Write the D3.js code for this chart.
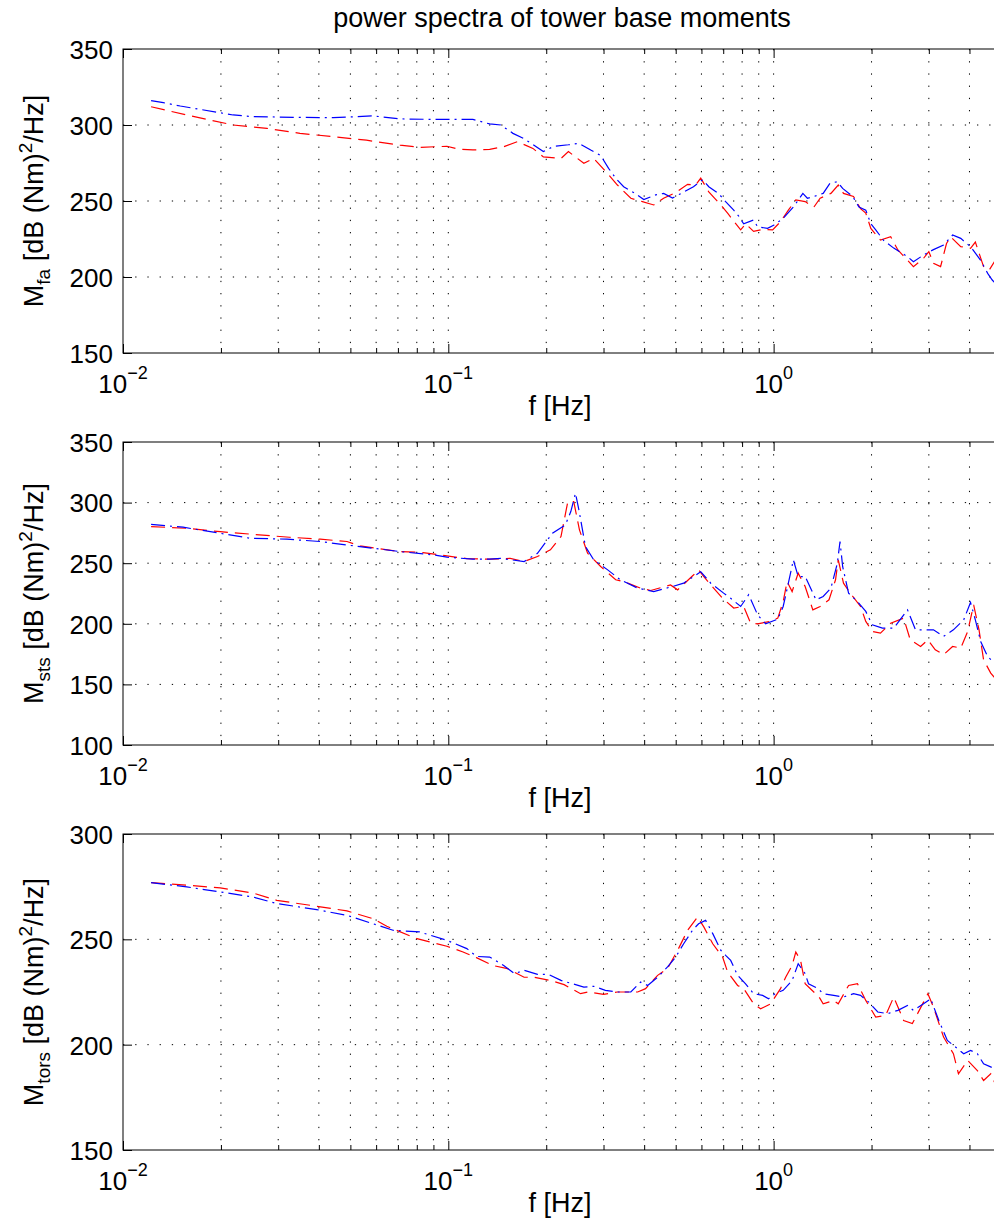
<!DOCTYPE html>
<html>
<head>
<meta charset="utf-8">
<script src="https://cdn.jsdelivr.net/npm/d3@7"></script>
<style>
  body { margin: 0; background: #fff; }
  svg { display: block; font-family: "Liberation Sans", Arial, Helvetica, sans-serif; }
</style>
</head>
<body>
<div id="chart"></div>
<script>
// [frequency in Hz, PSD in dB]
const faRed = [[0.0122,312],[0.0157,306.6],[0.0218,300],[0.0277,297.8],[0.035,294.5],[0.0443,292.3],[0.056,290],[0.071,286.8],[0.0817,285.3],[0.099,286],[0.108,284],[0.119,283.6],[0.134,284],[0.148,285.7],[0.163,289],[0.182,284.6],[0.196,279],[0.222,278],[0.234,282.5],[0.261,274.8],[0.28,278],[0.309,268],[0.331,260.5],[0.364,251.8],[0.395,249.6],[0.428,247.4],[0.459,251.8],[0.5,255.5],[0.544,261],[0.576,260.5],[0.597,265],[0.632,256],[0.697,246],[0.722,242],[0.792,231],[0.82,235],[0.868,230],[0.932,231.4],[0.993,231],[1.05,236.4],[1.11,244],[1.17,250.7],[1.25,249.6],[1.33,246],[1.39,251.8],[1.5,255],[1.58,260.5],[1.64,255],[1.76,253],[1.85,245],[1.92,242],[1.99,232],[2.13,224.3],[2.29,226.5],[2.41,217.8],[2.58,211],[2.69,206.8],[2.89,212.3],[3.0,216.7],[3.1,209],[3.26,206.8],[3.4,222],[3.5,226.5],[3.76,220],[4.03,218.9],[4.17,223],[4.42,206.8],[4.6,204.6],[4.8,211]];
const faBlue = [[0.0122,316],[0.0133,314.7],[0.015,312.5],[0.0218,306.6],[0.0251,305.5],[0.035,305],[0.0443,304.8],[0.0587,306],[0.071,304],[0.0897,303.7],[0.101,303.7],[0.119,303.7],[0.134,300.7],[0.145,300],[0.158,294.5],[0.171,291],[0.196,282.5],[0.211,286],[0.234,287],[0.252,288],[0.274,283.5],[0.294,280],[0.311,271.5],[0.327,265],[0.346,259.4],[0.372,255.5],[0.399,251],[0.434,254],[0.459,255],[0.489,252],[0.525,255.5],[0.567,259.4],[0.605,264],[0.632,259.4],[0.677,255],[0.712,249.6],[0.754,244],[0.781,240],[0.809,235],[0.868,237.5],[0.893,233],[0.958,232],[1.0,234],[1.07,238.6],[1.15,246],[1.23,255],[1.27,251.8],[1.33,253],[1.42,255],[1.49,261.6],[1.57,262.7],[1.63,258.3],[1.75,253],[1.83,246],[1.92,244],[1.99,235],[2.06,231],[2.18,224],[2.34,219],[2.58,213.4],[2.69,210],[2.89,214.5],[3.1,218],[3.33,221],[3.55,227.6],[3.76,225.4],[4.03,220],[4.33,211],[4.55,202.4],[4.7,198],[4.8,196]];

const stsRed = [[0.0122,280.2],[0.0157,278.8],[0.0199,276],[0.0246,274],[0.0325,271.4],[0.0404,269.8],[0.0488,267.9],[0.0535,264.3],[0.071,259.6],[0.0836,258.8],[0.099,256],[0.114,253.8],[0.134,253.3],[0.155,254],[0.171,251.4],[0.188,255.5],[0.206,261],[0.222,272],[0.233,300.8],[0.243,300.8],[0.253,277.5],[0.268,258.2],[0.294,247.3],[0.327,236.3],[0.346,234.9],[0.39,229.4],[0.419,227.5],[0.482,232],[0.507,228],[0.567,240.3],[0.588,244.5],[0.61,239],[0.654,229.4],[0.697,221],[0.754,213],[0.809,214.3],[0.85,200.5],[0.893,200],[0.979,202],[1.03,204.7],[1.07,218.4],[1.1,234.9],[1.14,226.6],[1.19,241.8],[1.25,230.8],[1.32,211.5],[1.39,214.3],[1.48,219.8],[1.55,236.3],[1.58,252.7],[1.64,233.5],[1.72,225.3],[1.85,214.3],[1.92,202],[2.01,193.7],[2.13,192.3],[2.29,200.5],[2.51,204.7],[2.63,186.8],[2.83,181.3],[2.98,186.8],[3.14,178.6],[3.33,174.5],[3.55,181.3],[3.76,180],[3.95,193.7],[4.12,215.7],[4.28,195],[4.42,170.3],[4.65,159.3],[4.8,155]];
const stsBlue = [[0.0122,282],[0.0153,279.7],[0.0199,274.7],[0.0246,270.6],[0.0319,269.8],[0.0404,267.9],[0.0488,265],[0.0535,263.7],[0.071,259.6],[0.0897,256.9],[0.099,255],[0.119,253.3],[0.134,253.3],[0.145,254],[0.171,251.4],[0.188,258.2],[0.209,274.7],[0.229,281.6],[0.238,292.6],[0.246,307.7],[0.252,294],[0.264,263.7],[0.28,252.7],[0.309,244.5],[0.338,236.3],[0.382,229.4],[0.428,226.6],[0.489,230.8],[0.529,233.5],[0.597,243],[0.641,233.5],[0.702,225.3],[0.738,221],[0.792,214.3],[0.838,224],[0.893,207.4],[0.945,200],[1.03,203.8],[1.07,214.3],[1.11,233.5],[1.15,252.7],[1.19,239],[1.25,239],[1.35,219.8],[1.42,222.5],[1.5,229.4],[1.57,250],[1.6,267.9],[1.63,247.3],[1.7,225.3],[1.81,218.4],[1.92,210.2],[2.01,199.2],[2.16,196.4],[2.34,196.4],[2.58,211.5],[2.73,195],[2.89,195],[3.1,195],[3.33,189.6],[3.57,195],[3.84,203.3],[4.03,217.6],[4.17,203.3],[4.33,185.4],[4.55,173],[4.8,167]];

const torsRed = [[0.0122,276.9],[0.0157,275.7],[0.0199,274.4],[0.0251,272],[0.0297,268.5],[0.0394,265.7],[0.0488,263.5],[0.0587,259.8],[0.0647,256.2],[0.0801,250.3],[0.099,246.7],[0.111,244],[0.122,241.3],[0.137,237.6],[0.152,236.1],[0.171,232],[0.183,232],[0.206,230.5],[0.227,228.5],[0.255,224.2],[0.268,225],[0.3,223.9],[0.331,225],[0.382,225],[0.404,226.6],[0.44,232.9],[0.472,236.1],[0.51,245.6],[0.544,254.3],[0.584,260.6],[0.61,255.9],[0.65,247.9],[0.697,241.6],[0.722,234.5],[0.775,228.1],[0.809,226.6],[0.868,219.4],[0.912,217],[0.979,219.4],[1.05,226.6],[1.09,232.1],[1.14,237.6],[1.17,244],[1.21,240],[1.25,228.9],[1.38,222.6],[1.42,219.4],[1.53,221],[1.58,219.4],[1.7,228.1],[1.81,228.9],[1.92,221],[2.06,213.1],[2.21,213.9],[2.34,222.6],[2.51,211.5],[2.67,210],[2.89,220.2],[2.98,224.2],[3.1,217.8],[3.33,203.6],[3.57,195.7],[3.7,186.2],[3.95,192.5],[4.23,187.7],[4.42,183],[4.65,186.2],[4.8,181.4]];
const torsBlue = [[0.0122,276.9],[0.0157,274.9],[0.0199,272.5],[0.0251,270.1],[0.0297,267],[0.0394,264.1],[0.0488,261.4],[0.0587,257.4],[0.0676,254.3],[0.0817,253.5],[0.099,249.5],[0.114,245.6],[0.122,241.9],[0.134,241.6],[0.148,237.6],[0.16,233.7],[0.171,235.3],[0.188,233.4],[0.203,233.4],[0.222,230.5],[0.241,228.9],[0.261,227.3],[0.28,227.7],[0.304,225.8],[0.331,225],[0.364,225],[0.39,229.7],[0.41,228.1],[0.44,232],[0.472,236.9],[0.5,241.6],[0.529,247.9],[0.563,254.3],[0.588,257.4],[0.618,259],[0.65,252.7],[0.688,244.8],[0.712,242.4],[0.738,240],[0.775,232.9],[0.82,228.9],[0.868,224.2],[0.925,223.4],[0.965,221.8],[1.01,224.2],[1.07,225.8],[1.14,230.5],[1.19,238.4],[1.25,233.7],[1.28,228.9],[1.37,226.6],[1.42,224.2],[1.53,223.4],[1.64,222.6],[1.76,224.2],[1.85,223.4],[1.96,220.2],[2.09,215.5],[2.24,214.7],[2.41,216.3],[2.58,218.6],[2.69,216.3],[2.89,219.4],[3.04,221.8],[3.22,211.5],[3.42,202],[3.63,198.8],[3.84,195.7],[4.03,197.3],[4.23,195.7],[4.42,190.9],[4.8,188.5]];

const faTicks = [150, 200, 250, 300, 350];
const stsTicks = [100, 150, 200, 250, 300, 350];
const torsTicks = [150, 200, 250, 300];
const xMajor = [0.01, 0.1, 1];
const xExponents = ['\u22122', '\u22121', '0'];
const titleText = 'power spectra of tower base moments';

const width = 994, height = 1220;
const svg = d3.select('#chart').append('svg')
  .attr('width', width)
  .attr('height', height);
svg.append('rect').attr('width', width).attr('height', height).attr('fill', '#fff');

// plot frame runs a little past the right edge of the picture
const left = 123, right = 1001;
const x = d3.scaleLog().domain([0.01, 5]).range([left, right]);

const xMinor = [];
xMajor.forEach((d) => {
  for (let k = 2; k <= 9; k++) {
    const v = +(d * k).toPrecision(3);
    if (v <= 5) xMinor.push(v);
  }
});

const panels = [
  { top: 49, bottom: 353, ticks: faTicks, red: faRed, blue: faBlue, sub: 'fa' },
  { top: 442, bottom: 745, ticks: stsTicks, red: stsRed, blue: stsBlue, sub: 'sts' },
  { top: 834, bottom: 1150, ticks: torsTicks, red: torsRed, blue: torsBlue, sub: 'tors' }
];

const gridDash = '1.3 10.9';

panels.forEach((p, i) => {
  const y = d3.scaleLinear()
    .domain(d3.extent(p.ticks))
    .range([p.bottom, p.top]);

  const g = svg.append('g');

  // dotted grid
  g.selectAll('.vgrid')
    .data(xMajor.slice(1).concat(xMinor))
    .enter()
    .append('line')
    .attr('x1', (d) => x(d)).attr('x2', (d) => x(d))
    .attr('y1', p.top).attr('y2', p.bottom)
    .attr('stroke', '#000')
    .attr('stroke-width', 1)
    .attr('stroke-dasharray', gridDash);

  g.selectAll('.hgrid')
    .data(p.ticks.slice(1, -1))
    .enter()
    .append('line')
    .attr('x1', left).attr('x2', right)
    .attr('y1', (d) => y(d)).attr('y2', (d) => y(d))
    .attr('stroke', '#000')
    .attr('stroke-width', 1)
    .attr('stroke-dasharray', gridDash);

  // clip for the spectra
  const clipId = `clip${i}`;
  svg.append('clipPath').attr('id', clipId)
    .append('rect')
    .attr('x', left).attr('y', p.top)
    .attr('width', right - left).attr('height', p.bottom - p.top);

  const line = d3.line()
    .x((d) => x(d[0]))
    .y((d) => y(d[1]));

  const lines = g.append('g').attr('clip-path', `url(#${clipId})`);
  lines.append('path')
    .datum(p.red)
    .attr('fill', 'none')
    .attr('stroke', '#ff0000')
    .attr('stroke-width', 1.2)
    .attr('stroke-dasharray', '14 7')
    .attr('d', line);
  lines.append('path')
    .datum(p.blue)
    .attr('fill', 'none')
    .attr('stroke', '#0000ff')
    .attr('stroke-width', 1.2)
    .attr('stroke-dasharray', '14 5 2 5')
    .attr('d', line);

  // ticks (inward), labels added by hand below
  const tickStyle = (sel) => {
    sel.select('.domain').remove();
    sel.selectAll('line').attr('stroke', '#000').attr('stroke-width', 1);
    sel.selectAll('text').remove();
  };
  g.append('g').attr('transform', `translate(0,${p.bottom})`)
    .call(d3.axisBottom(x).tickValues(xMajor).tickSizeInner(-9).tickSizeOuter(0))
    .call(tickStyle);
  g.append('g').attr('transform', `translate(0,${p.bottom})`)
    .call(d3.axisBottom(x).tickValues(xMinor).tickSizeInner(-5).tickSizeOuter(0))
    .call(tickStyle);
  g.append('g').attr('transform', `translate(0,${p.top})`)
    .call(d3.axisTop(x).tickValues(xMajor).tickSizeInner(-9).tickSizeOuter(0))
    .call(tickStyle);
  g.append('g').attr('transform', `translate(0,${p.top})`)
    .call(d3.axisTop(x).tickValues(xMinor).tickSizeInner(-5).tickSizeOuter(0))
    .call(tickStyle);

  const yAxis = g.append('g').attr('transform', `translate(${left},0)`)
    .call(d3.axisLeft(y).tickValues(p.ticks).tickSizeInner(-9).tickSizeOuter(0).tickPadding(10));
  yAxis.select('.domain').remove();
  yAxis.selectAll('line').attr('stroke', '#000');
  yAxis.selectAll('text')
    .attr('fill', '#000')
    .attr('dy', '0.36em')
    .style('font-size', '26px')
    .style('font-family', '"Liberation Sans", Arial, Helvetica, sans-serif');

  // frame
  g.append('rect')
    .attr('x', left).attr('y', p.top)
    .attr('width', right - left).attr('height', p.bottom - p.top)
    .attr('fill', 'none')
    .attr('stroke', '#000')
    .attr('stroke-width', 1);

  // 10^n labels
  xMajor.forEach((d, k) => {
    const t = g.append('text')
      .attr('x', x(d))
      .attr('y', p.bottom + 40)
      .attr('text-anchor', 'middle')
      .style('font-size', '26px');
    t.append('tspan').text('10');
    t.append('tspan').attr('dy', -14).style('font-size', '18px').text(xExponents[k]);
  });

  g.append('text')
    .attr('x', 560)
    .attr('y', p.bottom + 62)
    .attr('text-anchor', 'middle')
    .style('font-size', '27px')
    .text('f [Hz]');

  const yl = g.append('text')
    .attr('transform', `translate(43,${(p.top + p.bottom) / 2}) rotate(-90)`)
    .attr('text-anchor', 'middle')
    .style('font-size', '27px');
  yl.append('tspan').text('M');
  yl.append('tspan').attr('dy', 7).style('font-size', '19px').text(p.sub);
  yl.append('tspan').attr('dy', -7).text(' [dB (Nm)');
  yl.append('tspan').attr('dy', -11).style('font-size', '19px').text('2');
  yl.append('tspan').attr('dy', 11).text('/Hz]');
});

svg.append('text')
  .attr('x', 562)
  .attr('y', 27)
  .attr('text-anchor', 'middle')
  .style('font-size', '27px')
  .text(titleText);
</script>
</body>
</html>
